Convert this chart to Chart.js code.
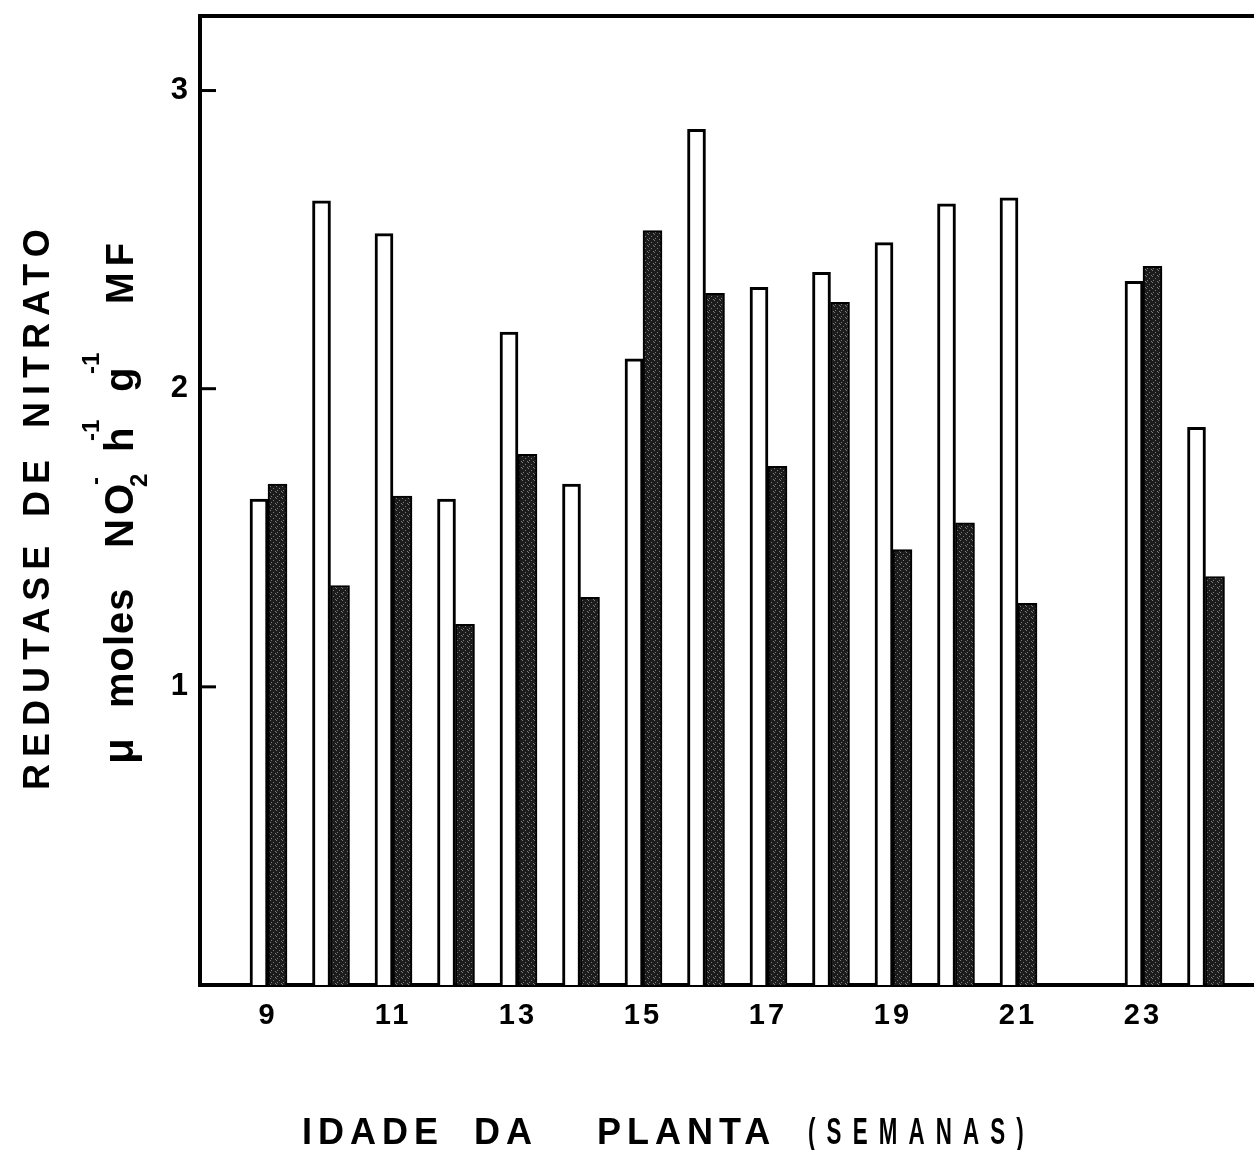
<!DOCTYPE html>
<html>
<head>
<meta charset="utf-8">
<script src="https://cdn.jsdelivr.net/npm/chart.js@4/dist/chart.umd.min.js"></script>
<style>
  html, body { margin: 0; padding: 0; background: #fff; overflow: hidden; }
  #wrap { width: 1254px; height: 1150px; position: relative; }
</style>
</head>
<body>
<div id="wrap"><canvas id="c" width="1254" height="1150"></canvas></div>
<script>
// ---- data ----
const weeks = [9, 10, 11, 12, 13, 14, 15, 16, 17, 18, 19, 20, 21, 22, 23, 24];
const seriesWhite = [1.63, 2.63, 2.52, 1.63, 2.19, 1.68, 2.10, 2.87, 2.34, 2.39, 2.49, 2.62, 2.64, null, 2.36, 1.87];
const seriesDark  = [1.68, 1.34, 1.64, 1.21, 1.78, 1.30, 2.53, 2.32, 1.74, 2.29, 1.46, 1.55, 1.28, null, 2.41, 1.37];
const xTickLabels = [9, 11, 13, 15, 17, 19, 21, 23];
const yTickLabels = [1, 2, 3];
const xTitleWords = ['IDADE', 'DA', 'PLANTA'];
const xTitleUnit = '(SEMANAS)';
const yTitleWords = ['REDUTASE', 'DE', 'NITRATO'];

// stipple pattern for dark bars
function makePattern() {
  const p = document.createElement('canvas');
  p.width = 6; p.height = 6;
  const g = p.getContext('2d');
  g.fillStyle = '#1c1c1c';
  g.fillRect(0, 0, 6, 6);
  g.fillStyle = '#7a7a7a';
  [[0,0],[3,2],[1,4],[5,5]].forEach(([a,b]) => g.fillRect(a, b, 1, 1));
  return g.createPattern(p, 'repeat');
}
const ctx0 = document.getElementById('c').getContext('2d');
const darkFill = makePattern();

const FONT = '"Liberation Sans", Arial, sans-serif';

const decorPlugin = {
  id: 'decor',
  beforeDraw(chart) {
    chart.ctx.letterSpacing = '3px';
  },
  beforeDatasetsDraw(chart) {
    chart.ctx.letterSpacing = '0px';
  },
  afterDraw(chart) {
    const ctx = chart.ctx;
    const ca = chart.chartArea;
    const y = chart.scales.y;
    ctx.save();
    ctx.strokeStyle = '#000';
    ctx.lineCap = 'butt';
    // top frame line
    ctx.lineWidth = 4;
    ctx.beginPath();
    ctx.moveTo(ca.left - 2, ca.top);
    ctx.lineTo(chart.width, ca.top);
    ctx.stroke();
    // inward ticks on y
    ctx.lineWidth = 3;
    yTickLabels.forEach(v => {
      const py = y.getPixelForValue(v);
      ctx.beginPath();
      ctx.moveTo(ca.left, py);
      ctx.lineTo(ca.left + 16, py);
      ctx.stroke();
    });

    ctx.fillStyle = '#000';
    ctx.textBaseline = 'alphabetic';
    ctx.textAlign = 'left';

    // x title
    ctx.font = 'bold 36px ' + FONT;
    ctx.letterSpacing = '6px';
    const xStarts = [302, 474, 597];
    xTitleWords.forEach((w, i) => ctx.fillText(w, xStarts[i], 1144));
    ctx.save();
    ctx.translate(808, 1144);
    ctx.scale(0.62, 1);
    ctx.letterSpacing = '18px';
    ctx.font = 'bold 36px ' + FONT;
    ctx.fillText(xTitleUnit, 0, 0);
    ctx.restore();

    // y title line 1 (rotated)
    ctx.save();
    ctx.rotate(-Math.PI / 2);
    ctx.font = 'bold 36px ' + FONT;
    ctx.letterSpacing = '7px';
    const yStarts = [790, 517, 428];
    yTitleWords.forEach((w, i) => ctx.fillText(w, -yStarts[i], 49));

    // y title line 2 with sub/superscripts
    ctx.letterSpacing = '1px';
    ctx.font = 'bold 42px ' + FONT;
    const base = 133;
    ctx.fillText('\u03bc', -764, base);
    ctx.font = 'bold 40px ' + FONT;
    ctx.fillText('moles', -708, base);
    ctx.letterSpacing = '4px';
    ctx.fillText('NO', -548, base);
    ctx.font = 'bold 24px ' + FONT;
    ctx.letterSpacing = '0px';
    ctx.fillText('2', -487, base + 14);
    ctx.fillText('-', -485, base - 30);
    ctx.font = 'bold 40px ' + FONT;
    ctx.fillText('h', -452, base);
    ctx.font = 'bold 24px ' + FONT;
    ctx.fillText('-1', -441, base - 34);
    ctx.font = 'bold 40px ' + FONT;
    ctx.fillText('g', -392, base);
    ctx.font = 'bold 24px ' + FONT;
    ctx.fillText('-1', -374, base - 34);
    ctx.font = 'bold 38px ' + FONT;
    ctx.letterSpacing = '6px';
    ctx.fillText('MF', -304, base);
    ctx.restore();

    ctx.restore();
  }
};

new Chart(ctx0, {
  type: 'bar',
  data: {
    datasets: [
      {
        label: 'white',
        data: weeks.map((w, i) => ({ x: w, y: seriesWhite[i] })),
        backgroundColor: '#ffffff',
        borderColor: '#000000',
        borderWidth: 3,
        barThickness: 18
      },
      {
        label: 'dark',
        data: weeks.map((w, i) => ({ x: w, y: seriesDark[i] })),
        backgroundColor: darkFill,
        borderColor: '#000000',
        borderWidth: 2,
        barThickness: 19
      }
    ]
  },
  options: {
    responsive: false,
    animation: false,
    events: [],
    layout: { padding: { top: 16, left: 0, right: 0, bottom: 0 } },
    plugins: {
      legend: { display: false },
      tooltip: { enabled: false },
      title: { display: false }
    },
    scales: {
      x: {
        type: 'linear',
        offset: false,
        min: 7.912,
        max: 24.776,
        grid: { display: false, drawTicks: false },
        border: { display: true, color: '#000', width: 4 },
        ticks: {
          color: '#000',
          font: { family: FONT, size: 29, weight: 'bold' },
          padding: 14,
          maxRotation: 0,
          autoSkip: false
        },
        afterBuildTicks(scale) {
          scale.ticks = xTickLabels.map(v => ({ value: v }));
        },
        afterFit(scale) {
          scale.height = 165;
          scale.paddingLeft = 0;
          scale.paddingRight = 0;
        }
      },
      y: {
        type: 'linear',
        min: 0,
        max: 3.25,
        grid: { display: false, drawTicks: false },
        border: { display: true, color: '#000', width: 4 },
        ticks: {
          color: '#000',
          font: { family: FONT, size: 31, weight: 'bold' },
          padding: 9
        },
        afterBuildTicks(scale) {
          scale.ticks = yTickLabels.map(v => ({ value: v }));
        },
        afterFit(scale) {
          scale.width = 200;
          scale.paddingTop = 0;
          scale.paddingBottom = 0;
        }
      }
    }
  },
  plugins: [decorPlugin]
});
</script>
</body>
</html>
